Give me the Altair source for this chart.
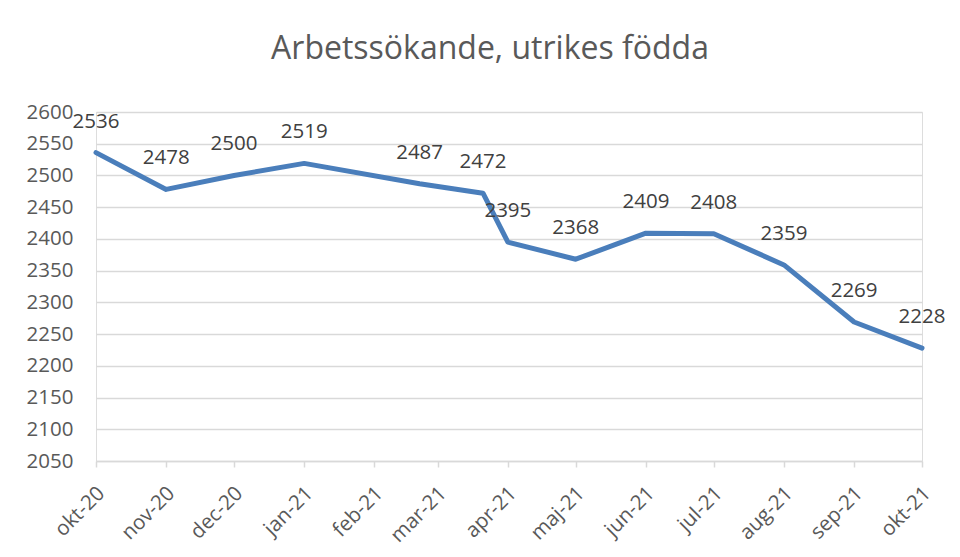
import altair as alt
import pandas as pd

# ---- data ----
dates = ["2020-10-01", "2020-11-01", "2020-12-01", "2021-01-01", "2021-02-21",
         "2021-03-21", "2021-04-01", "2021-05-01", "2021-06-01", "2021-07-01",
         "2021-08-01", "2021-09-01", "2021-10-01"]
values = [2536, 2478, 2500, 2519, 2487, 2472, 2395, 2368, 2409, 2408, 2359, 2269, 2228]

tick_months = ["2020-10-01", "2020-11-01", "2020-12-01", "2021-01-01", "2021-02-01",
               "2021-03-01", "2021-04-01", "2021-05-01", "2021-06-01", "2021-07-01",
               "2021-08-01", "2021-09-01", "2021-10-01"]
month_abbr = ["jan", "feb", "mar", "apr", "maj", "jun", "jul", "aug", "sep", "okt", "nov", "dec"]
y_ticks = [2050, 2100, 2150, 2200, 2250, 2300, 2350, 2400, 2450, 2500, 2550, 2600]

title_text = "Arbetssökande, utrikes födda"

df = pd.DataFrame({"date": dates, "value": values})

def to_ms(s):
    return int(pd.Timestamp(s, tz="UTC").value // 10**6)

tick_ms = [to_ms(s) for s in tick_months]
abbr_js = "[" + ",".join("'%s'" % m for m in month_abbr) + "]"
label_expr = abbr_js + "[utcmonth(datum.value)] + '-' + utcFormat(datum.value, '%y')"

FONT = "Open Sans"
GRID = "#D9D9D9"

x_enc = alt.X(
    "date:T",
    scale=alt.Scale(type="utc", domain=[tick_ms[0], tick_ms[-1]]),
    axis=alt.Axis(
        values=tick_ms,
        labelExpr=label_expr,
        labelAngle=-45,
        labelAlign="right",
        labelBaseline="middle",
        labelOffset=5,
        labelPadding=23,
        tickSize=6,
        tickColor=GRID,
        tickWidth=1.5,
        domainColor=GRID,
        domainWidth=1.5,
        grid=False,
        title=None,
        labelFont=FONT,
        labelFontSize=20.5,
        labelColor="#595959",
        labelOverlap=False,
        labelBound=False,
    ),
)

y_enc = alt.Y(
    "value:Q",
    scale=alt.Scale(domain=[2050, 2600], nice=False, zero=False),
    axis=alt.Axis(
        values=y_ticks,
        format="d",
        labelOverlap=False,
        domain=False,
        ticks=False,
        grid=True,
        gridColor=GRID,
        gridWidth=1.5,
        labelFont=FONT,
        labelFontSize=20.5,
        labelColor="#595959",
        labelPadding=23,
        title=None,
    ),
)

base = alt.Chart(df).encode(x=x_enc, y=y_enc)

line = base.mark_line(
    color="#4A7EBB", strokeWidth=5, strokeCap="round", strokeJoin="round"
)

labels = base.mark_text(
    font=FONT, fontSize=20.5, color="#404040", baseline="alphabetic", align="center", dy=-25
).encode(text=alt.Text("value:Q"))

chart = (
    alt.layer(line, labels)
    .properties(
        width=826,
        height=349,
        title=alt.TitleParams(
            text=title_text,
            font=FONT,
            fontSize=32,
            fontWeight="normal",
            color="#595959",
            anchor="middle",
            baseline="alphabetic",
            offset=11,
            dx=-19,
        ),
        padding={"left": 88, "top": 104, "right": 28, "bottom": 88},
        autosize=alt.AutoSizeParams(type="none"),
    )
    .configure_view(stroke=None)
    .configure(background="white")
)

chart.save("out.html", embed_options={"renderer": "svg", "actions": False})
